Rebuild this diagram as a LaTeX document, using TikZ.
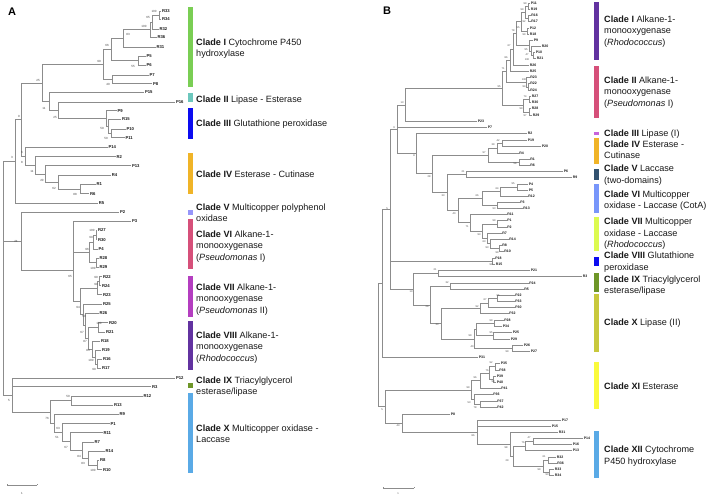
\documentclass[tikz,border=0pt]{standalone}
\usepackage{fontspec}
\setmainfont{Liberation Sans}
\usetikzlibrary{calc}
\definecolor{treegray}{RGB}{140,140,140}
\definecolor{txt}{RGB}{25,25,25}
\definecolor{bstxt}{RGB}{70,70,70}
\definecolor{cgreen}{RGB}{122,206,84}
\definecolor{cteal}{RGB}{108,199,189}
\definecolor{cblue}{RGB}{12,12,240}
\definecolor{corange}{RGB}{240,180,40}
\definecolor{clav}{RGB}{150,150,250}
\definecolor{cpink}{RGB}{214,80,122}
\definecolor{cmag}{RGB}{180,62,192}
\definecolor{cdpurp}{RGB}{98,50,160}
\definecolor{colive}{RGB}{110,150,40}
\definecolor{clblue}{RGB}{90,170,230}
\definecolor{clilac}{RGB}{200,100,220}
\definecolor{cslate}{RGB}{50,82,112}
\definecolor{ccorn}{RGB}{120,150,250}
\definecolor{clime}{RGB}{220,250,80}
\definecolor{colyel}{RGB}{200,200,60}
\definecolor{cyel}{RGB}{250,250,60}
\tikzset{
 br/.style={draw=treegray, line width=0.6pt},
 leafa/.style={anchor=west, inner sep=0.8pt, font=\fontsize{4.2}{5}\selectfont\bfseries, text=txt},
 leafb/.style={anchor=west, inner sep=0.7pt, font=\fontsize{3.5}{4}\selectfont\bfseries, text=txt},
 bsa/.style={inner sep=0pt, font=\fontsize{3}{3.5}\selectfont, text=bstxt},
 bsb/.style={inner sep=0pt, font=\fontsize{2.6}{3}\selectfont, text=bstxt},
 clab/.style={anchor=north west, inner sep=0pt, align=left, font=\fontsize{9.1}{11.5}\selectfont, text=txt},
 panel/.style={inner sep=0pt, font=\fontsize{11}{12}\selectfont\bfseries, text=black},
 scalebar/.style={draw=treegray, line width=0.6pt},
}
\newcommand\LA[4]{\coordinate (#1) at (#2,#3); \node[leafa] (#1t) at (#1) {#4};}
\newcommand\LB[4]{\coordinate (#1) at (#2,#3); \node[leafb] (#1t) at (#1) {#4};}
\newcommand\IN[4]{\path ($(#3)!0.5!(#4)$) coordinate (#1m); \coordinate (#1x) at (#2,0); \coordinate (#1) at (#1x |- #1m);}
\newcommand\KD[2]{\foreach \ch in {#2}{\draw[br] (#1) |- (\ch);}}
\newcommand\BA[3]{\node[bsa] at (#1,#2) {#3};}
\newcommand\BB[3]{\node[bsb] at (#1,#2) {#3};}
\newcommand\CL[4]{\node[clab] (#1) at (#2,{#3-3.9}) {\rule{0pt}{6.9pt}#4};}
\begin{document}
\begin{tikzpicture}[x=1pt,y=-1pt]
\fill[white] (0,0) rectangle (708,497);
\useasboundingbox (0,0) rectangle (708,497);
\node[panel] (pA) at (12,12) {A};
\node[panel] (pB) at (387,11) {B};
% ================= PANEL A leaves =================
\LA{aR33}{161}{11}{R33}
\LA{aR34}{161}{19.3}{R34}
\LA{aR32}{158.5}{29}{R32}
\LA{aR36}{156.5}{37.3}{R36}
\LA{aR31}{155.5}{47}{R31}
\LA{aP5}{145.5}{56}{P5}
\LA{aP6}{145.5}{65}{P6}
\LA{aP7}{148.5}{75}{P7}
\LA{aP8}{152}{83.7}{P8}
\LA{aP15}{144}{92.3}{P15}
\LA{aP16}{175}{102}{P16}
\LA{aP9}{116.5}{110.7}{P9}
\LA{aR15}{121}{119.3}{R15}
\LA{aP10}{125.5}{129.3}{P10}
\LA{aP11}{124.5}{137.7}{P11}
\LA{aP14}{107.5}{147}{P14}
\LA{aR2}{115.5}{156.7}{R2}
\LA{aP13}{131}{165.7}{P13}
\LA{aR4}{110.8}{175.3}{R4}
\LA{aR1}{95.5}{184.3}{R1}
\LA{aR6}{89}{193.7}{R6}
\LA{aR5}{97.8}{203}{R5}
\LA{aP2}{119}{212.3}{P2}
\LA{aP3}{131}{221.3}{P3}
\LA{aR27}{97}{230.3}{R27}
\LA{aR30}{97}{239.7}{R30}
\LA{aP4}{97.5}{249}{P4}
\LA{aR28}{98.5}{258}{R28}
\LA{aR29}{98.5}{267.3}{R29}
\LA{aR22}{102}{276.7}{R22}
\LA{aR24}{101}{285.7}{R24}
\LA{aR23}{102}{294.7}{R23}
\LA{aR25}{102}{304}{R25}
\LA{aR26}{98.5}{313}{R26}
\LA{aR20}{108}{322.7}{R20}
\LA{aR21}{105}{332}{R21}
\LA{aR18}{100}{341}{R18}
\LA{aR19}{101}{350}{R19}
\LA{aR16}{102}{359.3}{R16}
\LA{aR17}{101}{368.3}{R17}
\LA{aP12}{175}{378}{P12}
\LA{aR3}{151}{386.7}{R3}
\LA{aR12}{142.5}{396}{R12}
\LA{aR13}{113}{405}{R13}
\LA{aR9}{118.5}{414.3}{R9}
\LA{aP1}{109.5}{423.7}{P1}
\LA{aR11}{102.5}{432.7}{R11}
\LA{aR7}{93.5}{442}{R7}
\LA{aR14}{104.5}{451.3}{R14}
\LA{aR8}{99}{460.3}{R8}
\LA{aR10}{102}{469.7}{R10}
% ================= PANEL A internal =================
\IN{a1}{159}{aR33}{aR34} \KD{a1}{aR33,aR34}
\IN{a2}{152}{a1}{aR32} \KD{a2}{a1,aR32}
\IN{a3}{150}{a2}{aR36} \KD{a3}{a2,aR36}
\IN{a4}{123}{a3}{aR31} \KD{a4}{a3,aR31}
\IN{a5}{138}{aP5}{aP6} \KD{a5}{aP5,aP6}
\IN{a6}{111}{a4}{a5} \KD{a6}{a4,a5}
\IN{a7}{112}{aP7}{aP8} \KD{a7}{aP7,aP8}
\IN{a8}{103}{a6}{a7} \KD{a8}{a6,a7}
\IN{ac1}{111}{aP10}{aP11} \KD{ac1}{aP10,aP11}
\IN{ac2}{108}{aR15}{ac1} \KD{ac2}{aR15,ac1}
\IN{ac3}{106}{aP9}{ac2} \KD{ac3}{aP9,ac2}
\IN{ab1}{58}{aP16}{ac3} \KD{ab1}{aP16,ac3}
\IN{ab2}{49}{aP15}{ab1} \KD{ab2}{aP15,ab1}
\IN{a9}{42}{a8}{ab2} \KD{a9}{a8,ab2}
\IN{ad1}{80}{aR1}{aR6} \KD{ad1}{aR1,aR6}
\IN{ad2}{58}{aR4}{ad1} \KD{ad2}{aR4,ad1}
\IN{ad3}{45}{aP13}{ad2} \KD{ad3}{aP13,ad2}
\IN{ad4}{35}{aR2}{ad3} \KD{ad4}{aR2,ad3}
\IN{ad5}{25}{aP14}{ad4} \KD{ad5}{aP14,ad4}
\IN{an9}{21}{a9}{ad5} \KD{an9}{a9,ad5}
\IN{aT}{15}{an9}{aR5} \KD{aT}{an9,aR5}
\IN{av1}{96}{aR27}{aR30} \KD{av1}{aR27,aR30}
\IN{av2}{93.5}{av1}{aP4} \KD{av2}{av1,aP4}
\IN{av3}{96.5}{aR28}{aR29} \KD{av3}{aR28,aR29}
\IN{av4}{89.5}{av2}{av3} \KD{av4}{av2,av3}
\IN{aw1}{99.5}{aR22}{aR24} \KD{aw1}{aR22,aR24}
\IN{aw2}{97.5}{aw1}{aR23} \KD{aw2}{aw1,aR23}
\IN{au0}{98}{aR20}{aR21} \KD{au0}{aR20,aR21}
\IN{au1}{97.5}{aR16}{aR17} \KD{au1}{aR16,aR17}
\IN{au2}{95}{aR19}{au1} \KD{au2}{aR19,au1}
\IN{au3}{92}{aR18}{au2} \KD{au3}{aR18,au2}
\IN{au4}{88.5}{au0}{au3} \KD{au4}{au0,au3}
\IN{au5}{85.5}{aR26}{au4} \KD{au5}{aR26,au4}
\IN{aw5}{83.5}{aR25}{au5} \KD{aw5}{aR25,au5}
\IN{aw4}{80}{aw2}{aw5} \KD{aw4}{aw2,aw5}
\coordinate (aM2) at (73,270); \KD{aM2}{aP3,av4,aw4}
\IN{aM}{21}{aP2}{aM2} \KD{aM}{aP2,aM2}
\IN{ax2}{97}{aR8}{aR10} \KD{ax2}{aR8,aR10}
\IN{ax3}{88}{aR14}{ax2} \KD{ax3}{aR14,ax2}
\IN{ax4}{82}{aR7}{ax3} \KD{ax4}{aR7,ax3}
\IN{ax5}{70}{aR11}{ax4} \KD{ax5}{aR11,ax4}
\IN{ax6}{62}{aP1}{ax5} \KD{ax6}{aP1,ax5}
\IN{ax7}{54}{aR9}{ax6} \KD{ax7}{aR9,ax6}
\IN{ax1}{71}{aR12}{aR13} \KD{ax1}{aR12,aR13}
\IN{ax8}{50}{ax1}{ax7} \KD{ax8}{ax1,ax7}
\IN{aB}{12}{aP12}{ax8} \KD{aB}{aP12,aR3,ax8}
\IN{aRoot}{3}{aT}{aB} \KD{aRoot}{aT,aM,aB}
% bootstrap A
\BA{154}{11}{100} \BA{148}{17}{65} \BA{144}{26}{100} \BA{128}{34}{83}
\BA{107}{45}{66} \BA{133}{66}{55} \BA{99}{61}{99} \BA{108}{84}{40}
\BA{38}{80}{25} \BA{44}{108}{11} \BA{55}{117}{25} \BA{102}{128}{59}
\BA{106}{138}{50} \BA{19}{116}{9} \BA{22}{152}{6} \BA{12}{157}{3}
\BA{22}{162}{8} \BA{32}{171}{11} \BA{42}{180}{20} \BA{54}{188}{62}
\BA{75}{194}{88} \BA{16}{241}{24} \BA{70}{276}{65} \BA{92}{230}{100}
\BA{91}{237}{99} \BA{87}{249}{96} \BA{93}{268}{100} \BA{96}{277}{99}
\BA{96}{284}{99} \BA{78}{307}{94} \BA{84}{316}{50} \BA{99}{323}{100}
\BA{82}{332}{67} \BA{85}{341}{87} \BA{88}{350}{83} \BA{91}{360}{100}
\BA{94}{369}{99} \BA{9}{400}{5} \BA{68}{396}{50} \BA{47}{418}{76}
\BA{58}{428}{63} \BA{57}{437}{51} \BA{66}{447}{67} \BA{79}{456}{84}
\BA{83}{463}{83} \BA{93}{470}{100}
% scale bar A
\coordinate (sa1) at (7,485); \coordinate (sa2) at (37,485);
\draw[scalebar] (sa1) -- (sa2);
\draw[scalebar] (sa1) -- ++(0,-1.2); \draw[scalebar] (sa2) -- ++(0,-1.2);
\node[bsa] (sal) at (22,493) {1};
% clade bars A
\fill[cgreen] (188,7) rectangle (193,87);
\fill[cteal] (188,93) rectangle (193,102);
\fill[cblue] (188,108) rectangle (193,139);
\fill[corange] (188,153) rectangle (193,194);
\fill[clav] (188,210) rectangle (193,214.5);
\fill[cpink] (188,219) rectangle (193,269);
\fill[cmag] (188,276) rectangle (193,317);
\fill[cdpurp] (188,321) rectangle (193,370);
\fill[colive] (188,383) rectangle (193,388);
\fill[clblue] (188,393) rectangle (193,473);
% clade text A
\CL{tA1}{196}{42}{\textbf{Clade I} Cytochrome P450\\hydroxylase}
\CL{tA2}{196}{99}{\textbf{Clade II} Lipase - Esterase}
\CL{tA3}{196}{123}{\textbf{Clade III} Glutathione peroxidase}
\CL{tA4}{196}{174}{\textbf{Clade IV} Esterase - Cutinase}
\CL{tA5}{196}{207}{\textbf{Clade V} Multicopper polyphenol\\oxidase}
\CL{tA6}{196}{234}{\textbf{Clade VI} Alkane-1-\\monooxygenase\\(\textit{Pseudomonas} I)}
\CL{tA7}{196}{287}{\textbf{Clade VII} Alkane-1-\\monooxygenase\\(\textit{Pseudomonas} II)}
\CL{tA8}{196}{335}{\textbf{Clade VIII} Alkane-1-\\monooxygenase\\(\textit{Rhodococcus})}
\CL{tA9}{196}{380}{\textbf{Clade IX} Triacylglycerol\\esterase/lipase}
\CL{tA10}{196}{428}{\textbf{Clade X} Multicopper oxidase -\\Laccase}
% ================= PANEL B leaves =================
\LB{bP11}{530}{3.5}{P11}
\LB{bR19}{530}{9.5}{R19}
\LB{bR16}{530.5}{15.5}{R16}
\LB{bR17}{530.5}{21.5}{R17}
\LB{bP12}{529}{28}{P12}
\LB{bR18}{529}{34}{R18}
\LB{bP9}{533}{40}{P9}
\LB{bR20}{541}{46.3}{R20}
\LB{bP10}{535}{52.3}{P10}
\LB{bR21}{536}{58.7}{R21}
\LB{bR26}{529}{65.3}{R26}
\LB{bR25}{529}{71.3}{R25}
\LB{bR23}{529.5}{77.3}{R23}
\LB{bR22}{529.5}{83.7}{R22}
\LB{bR24}{529.5}{90}{R24}
\LB{bR27}{531}{96.3}{R27}
\LB{bR30}{531}{102.3}{R30}
\LB{bR28}{531}{108.7}{R28}
\LB{bR29}{532}{115}{R29}
\LB{bP23}{477}{121.3}{P23}
\LB{bP7}{487}{127.3}{P7}
\LB{bR2}{527}{133.3}{R2}
\LB{bP19}{527}{140}{P19}
\LB{bP20}{541}{146.3}{P20}
\LB{bR4}{518.5}{153}{R4}
\LB{bR1}{529.5}{159.3}{R1}
\LB{bR6}{529.5}{165.3}{R6}
\LB{bP6}{563}{171.3}{P6}
\LB{bR9}{572}{177}{R9}
\LB{bP4}{528}{184}{P4}
\LB{bP5}{528}{190}{P5}
\LB{bR12}{527.5}{196}{R12}
\LB{bP3}{519.5}{202.3}{P3}
\LB{bR13}{522.5}{208.3}{R13}
\LB{bR11}{506.5}{214.3}{R11}
\LB{bP1}{506.5}{220.7}{P1}
\LB{bP2}{506.5}{227}{P2}
\LB{bR7}{501.5}{233}{R7}
\LB{bR14}{508.5}{239}{R14}
\LB{bR8}{501.5}{245.3}{R8}
\LB{bR10}{503.5}{251.3}{R10}
\LB{bP18}{494.5}{258.7}{P18}
\LB{bR15}{495}{264.3}{R15}
\LB{bP21}{530}{270.3}{P21}
\LB{bR3}{582}{276.7}{R3}
\LB{bP24}{528.5}{283}{P24}
\LB{bR5}{523.5}{289}{R5}
\LB{bP22}{514.5}{295.7}{P22}
\LB{bP33}{514.5}{301.7}{P33}
\LB{bP30}{514.5}{307.7}{P30}
\LB{bP32}{508.5}{313.7}{P32}
\LB{bP28}{503.5}{320}{P28}
\LB{bP34}{502}{326}{P34}
\LB{bP25}{512}{332.3}{P25}
\LB{bP29}{510}{339}{P29}
\LB{bP26}{523}{345}{P26}
\LB{bP27}{530}{351.7}{P27}
\LB{bP31}{478}{357.3}{P31}
\LB{bP35}{500}{363.3}{P35}
\LB{bP38}{498.5}{370}{P38}
\LB{bP39}{496}{376}{P39}
\LB{bP40}{496}{382.3}{P40}
\LB{bP41}{500.5}{388.3}{P41}
\LB{bP36}{492.5}{394.7}{P36}
\LB{bP37}{496.5}{401}{P37}
\LB{bP42}{496.5}{407.3}{P42}
\LB{bP8}{450}{414}{P8}
\LB{bP17}{561}{420}{P17}
\LB{bP15}{551}{426}{P15}
\LB{bR31}{558}{432}{R31}
\LB{bP14}{583}{438.3}{P14}
\LB{bP16}{572}{444.3}{P16}
\LB{bP13}{572}{450.7}{P13}
\LB{bR32}{556}{457}{R32}
\LB{bR36}{556.5}{463}{R36}
\LB{bR33}{554}{469}{R33}
\LB{bR34}{554}{475}{R34}
% ================= PANEL B internal =================
\IN{bt1}{528}{bP11}{bR19} \KD{bt1}{bP11,bR19}
\IN{bt2}{528.5}{bR16}{bR17} \KD{bt2}{bR16,bR17}
\IN{bt3}{525}{bt1}{bt2} \KD{bt3}{bt1,bt2}
\IN{bt4}{527}{bP12}{bR18} \KD{bt4}{bP12,bR18}
\IN{bt5}{521}{bt3}{bt4} \KD{bt5}{bt3,bt4}
\IN{bt6}{533}{bP10}{bR21} \KD{bt6}{bP10,bR21}
\IN{bt7}{531}{bR20}{bt6} \KD{bt7}{bR20,bt6}
\IN{bt8}{529}{bP9}{bt7} \KD{bt8}{bP9,bt7}
\IN{bt9}{516}{bt5}{bt8} \KD{bt9}{bt5,bt8}
\IN{bt10}{513}{bt9}{bR26} \KD{bt10}{bt9,bR26}
\IN{bt11}{510}{bt10}{bR25} \KD{bt11}{bt10,bR25}
\IN{bt12}{528}{bR22}{bR24} \KD{bt12}{bR22,bR24}
\IN{bt13}{526}{bR23}{bt12} \KD{bt13}{bR23,bt12}
\IN{bt14}{506}{bt11}{bt13} \KD{bt14}{bt11,bt13}
\IN{bt15}{529}{bR27}{bR30} \KD{bt15}{bR27,bR30}
\IN{bt16}{529}{bR28}{bR29} \KD{bt16}{bR28,bR29}
\IN{bt17}{523}{bt15}{bt16} \KD{bt17}{bt15,bt16}
\IN{bt18}{502}{bt14}{bt17} \KD{bt18}{bt14,bt17}
\IN{bs}{405}{bt18}{bP23} \KD{bs}{bt18,bP23}
\IN{bg1}{502}{bP19}{bP20} \KD{bg1}{bP19,bP20}
\IN{bg2}{497}{bg1}{bR4} \KD{bg2}{bg1,bR4}
\IN{bg3}{519}{bR1}{bR6} \KD{bg3}{bR1,bR6}
\IN{bg4}{488}{bg2}{bg3} \KD{bg4}{bg2,bg3}
\IN{bgv}{466}{bP6}{bR9} \KD{bgv}{bP6,bR9}
\IN{bc95}{517}{bP4}{bP5} \KD{bc95}{bP4,bP5}
\IN{bc64}{500}{bc95}{bR12} \KD{bc64}{bc95,bR12}
\IN{bc93}{497}{bP3}{bR13} \KD{bc93}{bP3,bR13}
\IN{bc66}{482}{bc64}{bc93} \KD{bc66}{bc64,bc93}
\IN{bc99a}{497}{bP1}{bP2} \KD{bc99a}{bP1,bP2}
\IN{bc99b}{499}{bR8}{bR10} \KD{bc99b}{bR8,bR10}
\IN{bc93c}{490}{bR14}{bc99b} \KD{bc93c}{bR14,bc99b}
\IN{bc63}{487}{bR7}{bc93c} \KD{bc63}{bR7,bc93c}
\IN{bc93b}{482}{bc99a}{bc63} \KD{bc93b}{bc99a,bc63}
\IN{bc71}{470}{bR11}{bc93b} \KD{bc71}{bR11,bc93b}
\IN{bc40}{458}{bc66}{bc71} \KD{bc40}{bc66,bc71}
\IN{bgy}{447}{bgv}{bc40} \KD{bgy}{bgv,bc40}
\IN{bgw}{432}{bg4}{bgy} \KD{bgw}{bg4,bgy}
\IN{bgu}{416}{bR2}{bgw} \KD{bgu}{bR2,bgw}
\IN{bgt}{397}{bs}{bgu} \KD{bgt}{bs,bP7,bgu}
\IN{bPR}{492}{bP18}{bR15} \KD{bPR}{bP18,bR15}
\IN{bn21}{438}{bP21}{bR3} \KD{bn21}{bP21,bR3}
\IN{bn52}{450}{bP24}{bR5} \KD{bn52}{bP24,bR5}
\IN{bn95}{497.5}{bP22}{bP33} \KD{bn95}{bP22,bP33}
\IN{bn67}{488}{bn95}{bP30} \KD{bn67}{bn95,bP30}
\IN{bn92}{480}{bn67}{bP32} \KD{bn92}{bn67,bP32}
\IN{bm1}{494}{bP28}{bP34} \KD{bm1}{bP28,bP34}
\IN{bm2}{493}{bP25}{bP29} \KD{bm2}{bP25,bP29}
\IN{bm3}{512}{bP26}{bP27} \KD{bm3}{bP26,bP27}
\IN{bm4}{476}{bm1}{bm2} \KD{bm4}{bm1,bm2}
\IN{bm5}{474}{bm4}{bm3} \KD{bm5}{bm4,bm3}
\IN{bn33}{441}{bn92}{bm5} \KD{bn33}{bn92,bm5}
\IN{bn29}{430}{bn52}{bn33} \KD{bn29}{bn52,bn33}
\IN{bL}{413}{bn21}{bn29} \KD{bL}{bn21,bn29}
\IN{bK}{390}{bgt}{bL} \KD{bK}{bgt,bPR,bL}
\IN{bK2}{382}{bK}{bP31} \KD{bK2}{bK,bP31}
\IN{br1}{495}{bP35}{bP38} \KD{br1}{bP35,bP38}
\IN{br2}{493}{bP39}{bP40} \KD{br2}{bP39,bP40}
\IN{br3}{489}{br1}{br2} \KD{br3}{br1,br2}
\IN{br4}{480}{br3}{bP41} \KD{br4}{br3,bP41}
\IN{br5}{480}{bP37}{bP42} \KD{br5}{bP37,bP42}
\IN{br6}{474}{bP36}{br5} \KD{br6}{bP36,br5}
\IN{br7}{471}{br4}{br6} \KD{br7}{br4,br6}
\IN{bq1}{533}{bP14}{bP16} \KD{bq1}{bP14,bP16}
\IN{bq2}{525}{bq1}{bP13} \KD{bq2}{bq1,bP13}
\IN{bq3}{548}{bR32}{bR36} \KD{bq3}{bR32,bR36}
\IN{bq4}{549}{bR33}{bR34} \KD{bq4}{bR33,bR34}
\IN{bq5}{543}{bq3}{bq4} \KD{bq5}{bq3,bq4}
\IN{bq6}{513}{bq2}{bq5} \KD{bq6}{bq2,bq5}
\IN{bq7}{510}{bR31}{bq6} \KD{bq7}{bR31,bq6}
\IN{bn86}{477}{bP17}{bq7} \KD{bn86}{bP17,bP15,bq7}
\IN{bn43}{402}{bP8}{bn86} \KD{bn43}{bP8,bn86}
\IN{bLL}{385}{br7}{bn43} \KD{bLL}{br7,bn43}
\IN{bRoot}{378}{bK2}{bLL} \KD{bRoot}{bK2,bLL}
% bootstrap B
\BB{525}{4}{99} \BB{522}{10}{99} \BB{524}{22}{92} \BB{518}{28}{55}
\BB{524}{35}{99} \BB{513}{31}{78} \BB{526}{50}{95} \BB{527}{55}{47}
\BB{527}{60}{100} \BB{509}{46}{67} \BB{506}{58}{86} \BB{503}{69}{71}
\BB{524}{80}{100} \BB{524}{87}{94} \BB{499}{87}{95} \BB{525}{97}{74}
\BB{521}{109}{99} \BB{525}{116}{97} \BB{402}{103}{13} \BB{394}{128}{9}
\BB{414}{156}{8} \BB{498}{141}{42} \BB{493}{145}{39} \BB{484}{153}{97}
\BB{515}{164}{58} \BB{463}{172}{21} \BB{429}{177}{28} \BB{443}{196}{33}
\BB{513}{184}{95} \BB{497}{189}{64} \BB{477}{196}{66} \BB{494}{209}{93}
\BB{454}{214}{40} \BB{494}{221}{99} \BB{467}{227}{71} \BB{479}{235}{93}
\BB{484}{242}{63} \BB{487}{248}{93} \BB{497}{253}{99} \BB{491}{265}{99}
\BB{387}{209}{5} \BB{435}{270}{21} \BB{411}{292}{13} \BB{447}{283}{32}
\BB{427}{307}{29} \BB{477}{307}{92} \BB{485}{300}{67} \BB{498}{296}{95}
\BB{437}{325}{33} \BB{491}{321}{99} \BB{491}{333}{95} \BB{470}{336}{99}
\BB{472}{347}{40} \BB{507}{352}{99} \BB{491}{363}{92} \BB{487}{371}{76}
\BB{493}{382}{93} \BB{475}{378}{96} \BB{468}{388}{99} \BB{469}{403}{53}
\BB{475}{408}{78} \BB{382}{410}{5} \BB{398}{426}{43} \BB{473}{436}{86}
\BB{529}{438}{47} \BB{523}{443}{76} \BB{506}{448}{98} \BB{507}{461}{29}
\BB{544}{457}{61} \BB{539}{470}{99} \BB{547}{475}{93}
% scale bar B
\coordinate (sb1) at (383,488); \coordinate (sb2) at (414,488);
\draw[scalebar] (sb1) -- (sb2);
\draw[scalebar] (sb1) -- ++(0,-1.2); \draw[scalebar] (sb2) -- ++(0,-1.2);
\node[bsb] (sbl) at (398,493.5) {1};
% clade bars B
\fill[cdpurp] (594.3,1.7) rectangle (599.3,60);
\fill[cpink] (594.3,65.7) rectangle (599.3,118.3);
\fill[clilac] (594.3,131.7) rectangle (599.3,135);
\fill[corange] (594.3,137.7) rectangle (599.3,164);
\fill[cslate] (594.3,169.3) rectangle (599.3,180);
\fill[ccorn] (594.3,184.3) rectangle (599.3,212.7);
\fill[clime] (594.3,216.7) rectangle (599.3,251);
\fill[cblue] (594.3,256.7) rectangle (599.3,265.7);
\fill[colive] (594.3,272.7) rectangle (599.3,292.3);
\fill[colyel] (594.3,294.3) rectangle (599.3,351.7);
\fill[cyel] (594.3,361.7) rectangle (599.3,409.3);
\fill[clblue] (594.3,431) rectangle (599.3,478.3);
% clade text B
\CL{tB1}{604}{19.3}{\textbf{Clade I} Alkane-1-\\monooxygenase\\(\textit{Rhodococcus})}
\CL{tB2}{604}{80}{\textbf{Clade II} Alkane-1-\\monooxygenase\\(\textit{Pseudomonas} I)}
\CL{tB3}{604}{133.3}{\textbf{Clade III} Lipase (I)}
\CL{tB4}{604}{144}{\textbf{Clade IV} Esterase -\\Cutinase}
\CL{tB5}{604}{168.3}{\textbf{Clade V} Laccase\\(two-domains)}
\CL{tB6}{604}{194}{\textbf{Clade VI} Multicopper\\oxidase - Laccase (CotA)}
\CL{tB7}{604}{221.7}{\textbf{Clade VII} Multicopper\\oxidase - Laccase\\(\textit{Rhodococcus})}
\CL{tB8}{604}{255.7}{\textbf{Clade VIII} Glutathione\\peroxidase}
\CL{tB9}{604}{279}{\textbf{Clade IX} Triacylglycerol\\esterase/lipase}
\CL{tB10}{604}{322.7}{\textbf{Clade X} Lipase (II)}
\CL{tB11}{604}{386}{\textbf{Clade XI} Esterase}
\CL{tB12}{604}{449.3}{\textbf{Clade XII} Cytochrome\\P450 hydroxylase}
\end{tikzpicture}
\end{document}
